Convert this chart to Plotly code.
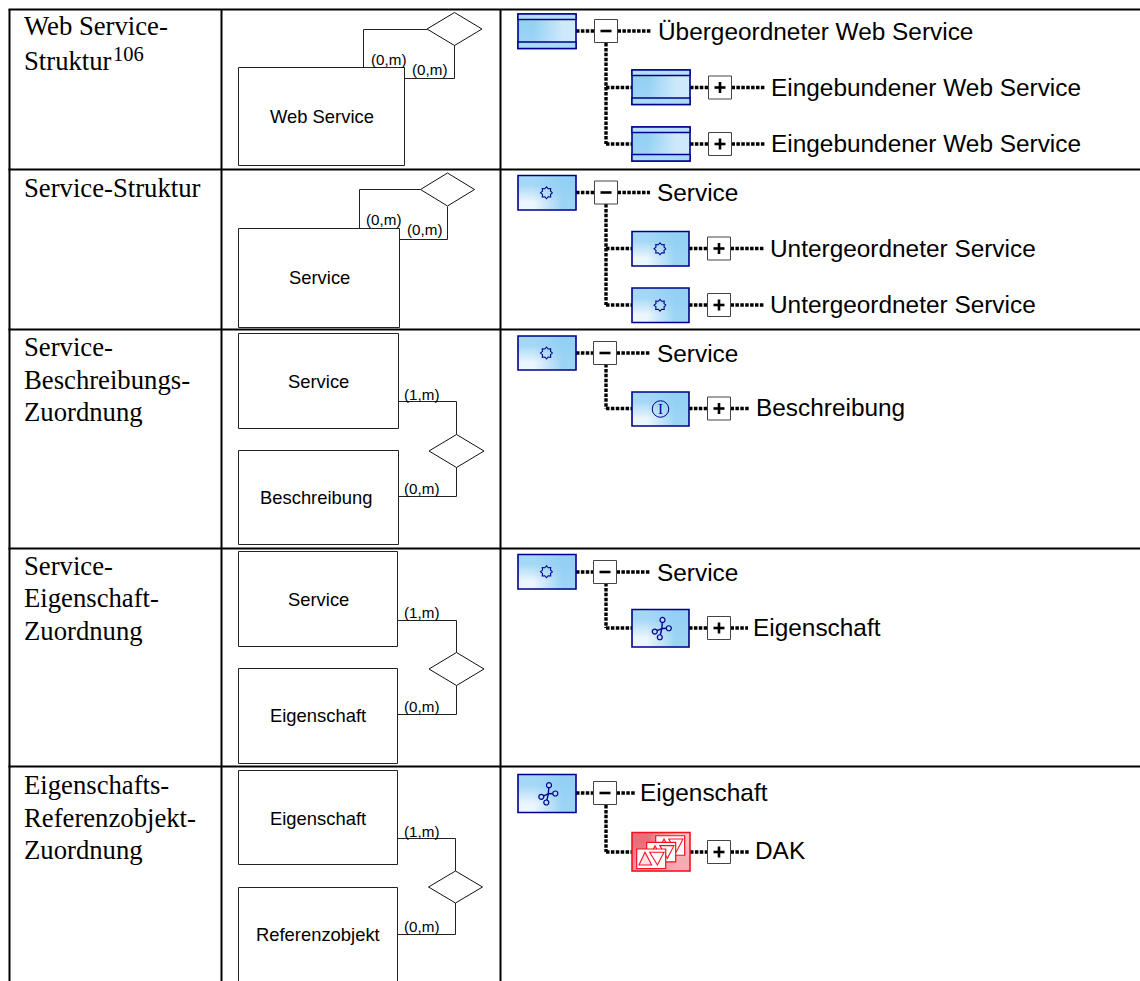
import math
import plotly.graph_objects as go

W, H = 1140, 981
# ---------------- table ----------------
table_h = [9.5, 169.5, 329.5, 548.5, 766.5]
table_v = [9.5, 221.5, 500.5]
row_line_text = ["Web Service-", "Struktur", "Service-Struktur",
                 "Service-", "Beschreibungs-", "Zuordnung",
                 "Service-", "Eigenschaft-", "Zuordnung",
                 "Eigenschafts-", "Referenzobjekt-", "Zuordnung"]
row_line_y = [25.5, 60.5, 187.5, 346.5, 379.5, 411.5, 565.5, 597.5, 630.5, 784.5, 817.5, 849.5]
row_text_x = 24
footnote_mark = "106"
footnote_x, footnote_y = 113, 54
# ---------------- ER diagrams ----------------
ent_names = ["Web Service", "Service", "Service", "Beschreibung", "Service", "Eigenschaft", "Eigenschaft", "Referenzobjekt"]
ent_x0 = [238.5, 238.5, 238.5, 238.5, 238.5, 238.5, 238.5, 238.5]
ent_x1 = [404.5, 399.5, 398.5, 398.5, 397.5, 397.5, 397.5, 397.5]
ent_y0 = [67.5, 228.5, 333.5, 450.5, 551.5, 668.5, 770.5, 887.5]
ent_y1 = [165.5, 327.5, 428.5, 544.5, 646.5, 763.5, 864.5, 990]
ent_tx = [321.5, 319, 318, 316, 318, 318, 318, 318]
ent_ty = [116.5, 277.5, 381, 497, 599, 715, 818, 934]
dia_cx = [454.5, 447.5, 456.5, 456.5, 455.5]
dia_cy = [29, 189.5, 451, 669, 887]
dia_rx = [27.5, 27, 27.5, 27.5, 27]
dia_ry = [16.5, 16.5, 16.5, 16.5, 16]
conn_x = [[363.5, 363.5, 427], [454.5, 454.5, 404.5],
          [359.5, 359.5, 420.5], [447.5, 447.5, 399.5],
          [398.5, 456.5, 456.5], [398.5, 456.5, 456.5],
          [397.5, 456.5, 456.5], [397.5, 456.5, 456.5],
          [397.5, 455.5, 455.5], [397.5, 455.5, 455.5]]
conn_y = [[67.5, 29.5, 29.5], [45.5, 78.5, 78.5],
          [228.5, 189.5, 189.5], [206.5, 239.5, 239.5],
          [401.5, 401.5, 434.5], [496.5, 496.5, 467.5],
          [620.5, 620.5, 652.5], [714.5, 714.5, 685.5],
          [838.5, 838.5, 871], [934.5, 934.5, 903]]
card_text = ["(0,m)", "(0,m)", "(0,m)", "(0,m)", "(1,m)", "(0,m)", "(1,m)", "(0,m)", "(1,m)", "(0,m)"]
card_x = [388, 429, 383, 424, 421, 421, 421, 421, 421, 421]
card_y = [59, 69.5, 219, 229, 394, 488, 612, 706, 831, 926.5]
# ---------------- tree diagrams ----------------
node_label = ["Übergeordneter Web Service", "Eingebundener Web Service", "Eingebundener Web Service",
              "Service", "Untergeordneter Service", "Untergeordneter Service",
              "Service", "Beschreibung", "Service", "Eigenschaft", "Eigenschaft", "DAK"]
node_icon = ["band", "band", "band", "gear", "gear", "gear", "gear", "info", "gear", "net", "net", "cards"]
node_x0 = [518, 632, 632, 518, 632, 632, 518, 632, 518, 632, 518, 632]
node_x1 = [576, 690, 690, 576, 689, 689, 576, 689, 576, 689, 576, 690]
node_y0 = [14, 70, 127, 175.5, 231.5, 288, 336, 392, 554.5, 609.5, 774.5, 832.5]
node_y1 = [48.5, 104.5, 161, 210, 266, 322.5, 370, 426, 589, 647, 812.5, 871]
node_cy = [31, 87.5, 144, 192.5, 248.5, 305, 353, 408.5, 572, 628, 793, 852]
label_y = [31, 87, 143.5, 192.5, 248, 304.5, 353, 407.5, 572, 627, 792, 850]
node_sign = ["-", "+", "+", "-", "+", "+", "-", "+", "-", "+", "-", "+"]
toggle_x0 = [594.5, 708.5, 708.5, 594.5, 707.5, 707.5, 593.5, 707.5, 593.5, 707.5, 593.5, 707.5]
line_end = [651, 765, 765, 650, 764, 764, 650, 750, 650, 748, 636, 750]
label_x = [658, 771, 771, 657, 770, 770, 657, 756, 657, 753, 640, 755]
stem_x = [606, 606, 606, 606, 606]
stem_y0 = [43, 204, 364, 583, 805]
stem_y1 = [144, 305, 408.5, 628, 852]
stem_branch = [[87.5, 144], [248.5, 305], [408.5], [628], [852]]
TOGGLE_W, TOGGLE_H = 23, 23
# icon glyph offsets
net_dx = [-5.7, 2, 8.3, -0.7]
net_dy = [3.3, -8.3, 0, 9]
net_hub = (1.3, 0.3)
card_dx = [9.2, 0.2, -9.8]
card_dy = [-6, 0.6, 7.25]
FONT_SANS = "Liberation Sans"
FONT_SERIF = "Liberation Serif"
NAVY = "#00008c"

fig = go.Figure()
shapes, annos = [], []

def text(x, y, s, size, family, anchor="left", color="#000"):
    annos.append(dict(x=x, y=y, text=s, showarrow=False, xanchor=anchor, yanchor="middle",
                      xref="x", yref="y", align="left",
                      font=dict(size=size, family=family, color=color),
                      borderpad=0, borderwidth=0))

def gradient(x0, x1, y0, y1, corners, scale):
    # corners: bottom-left, bottom-right, top-left, top-right strengths in 0..1
    w, h = (x1 - x0) / 2, (y1 - y0) / 2
    fig.add_trace(go.Heatmap(x=[x0 + w / 2, x1 - w / 2], y=[y0 + h / 2, y1 - h / 2],
                             z=[[corners[2], corners[3]], [corners[0], corners[1]]],
                             zmin=0, zmax=1, zsmooth="best", showscale=False, hoverinfo="skip",
                             colorscale=scale))

def rect(x0, y0, x1, y1, line, width=1, fill="rgba(0,0,0,0)"):
    shapes.append(dict(type="rect", x0=x0, y0=y0, x1=x1, y1=y1, xref="x", yref="y",
                       line=dict(color=line, width=width), fillcolor=fill))

BLUE = [[0, "#93d0f4"], [1, "#ecf6fd"]]
RED = [[0, "#e9707a"], [1, "#fbd3d6"]]

# gradients for tree boxes
for i, icon in enumerate(node_icon):
    if icon == "band":
        gradient(node_x0[i], node_x1[i], node_y0[i], node_y1[i], (0.1, 0.65, 0.0, 0.65), BLUE)
    elif icon == "cards":
        gradient(node_x0[i], node_x1[i], node_y0[i], node_y1[i], (0.3, 0.6, 0.0, 0.8), RED)
    else:
        gradient(node_x0[i], node_x1[i], node_y0[i], node_y1[i], (1.0, 0.1, 0.2, 0.0), BLUE)

# dotted connectors
dx, dy = [], []
for i in range(len(node_label)):
    tg0 = toggle_x0[i]
    dx += [node_x1[i], tg0, None, tg0 + TOGGLE_W, line_end[i], None]
    dy += [node_cy[i], node_cy[i], None, node_cy[i], node_cy[i], None]
for sx, y0, y1, branches in zip(stem_x, stem_y0, stem_y1, stem_branch):
    dx += [sx, sx, None]
    dy += [y0, y1, None]
    for b in branches:
        dx += [sx, 632, None]
        dy += [b, b, None]
fig.add_trace(go.Scatter(x=dx, y=dy, mode="lines", hoverinfo="skip", showlegend=False,
                         line=dict(color="#000", width=3.4, dash="3.5px,1.4px")))

# ER connectors
cx, cy = [], []
for a, b in zip(conn_x, conn_y):
    cx += a + [None]
    cy += b + [None]
fig.add_trace(go.Scatter(x=cx, y=cy, mode="lines", hoverinfo="skip", showlegend=False,
                         line=dict(color="#222", width=1)))
# diamonds
mx, my = [], []
for x, y, rx, ry in zip(dia_cx, dia_cy, dia_rx, dia_ry):
    mx += [x - rx, x, x + rx, x, x - rx, None]
    my += [y, y - ry, y, y + ry, y, None]
fig.add_trace(go.Scatter(x=mx, y=my, mode="lines", hoverinfo="skip", showlegend=False,
                         line=dict(color="#111", width=1)))

# tree boxes, toggles, icons
gear_lx, gear_ly, info_x, info_y = [], [], [], []
net_lx, net_ly, net_px, net_py = [], [], [], []
for i, icon in enumerate(node_icon):
    x0, x1, y0, y1 = node_x0[i], node_x1[i], node_y0[i], node_y1[i]
    mid = (x0 + x1) / 2
    cyv = (y0 + y1) / 2
    if icon == "cards":
        rect(x0, y0, x1, y1, "#fb0f1e", 1.6)
    else:
        rect(x0, y0, x1, y1, NAVY, 1.6)
    if icon == "band":
        rect(x0, y0, x1, y0 + 5.5, NAVY, 1.4, "#b6e0f8")
        rect(x0, y1 - 6.5, x1, y1, NAVY, 1.4, "#a9dbf7")
    elif icon == "gear":
        for k in range(17):
            r = 6 if k % 2 == 0 else 4.3
            ang = math.pi * k / 8
            gear_lx.append(mid - 0.5 + r * math.cos(ang))
            gear_ly.append(cyv + r * math.sin(ang))
        gear_lx.append(None); gear_ly.append(None)
    elif icon == "info":
        info_x.append(mid); info_y.append(cyv)
        text(mid, cyv, "I", 15, FONT_SERIF, "center", NAVY)
    elif icon == "net":
        hx, hy = mid + net_hub[0], cyv + net_hub[1]
        for a, b in zip(net_dx, net_dy):
            net_lx += [hx, mid + a, None]
            net_ly += [hy, cyv + b, None]
            net_px.append(mid + a); net_py.append(cyv + b)
    elif icon == "cards":
        for a, b in zip(card_dx, card_dy):
            left, top = mid + a - 14.5, cyv + b - 10
            right, bot = left + 29, top + 19.5
            rect(left, top, right, bot, "#fb0f1e", 1.2, "#ffffff")
            shapes.append(dict(type="path", xref="x", yref="y", fillcolor="#fde3e5",
                               line=dict(color="#fb0f1e", width=1.1),
                               path=f"M {left+2.3} {top+16} L {left+8.3} {top+3.3} L {left+15} {top+16} Z"))
            shapes.append(dict(type="path", xref="x", yref="y", fillcolor="#ffffff",
                               line=dict(color="#fb0f1e", width=1.1),
                               path=f"M {left+13} {top+3.3} L {left+27.3} {top+3.3} L {left+20.7} {top+16} Z"))
    # toggle
    tx0 = toggle_x0[i]
    ty0 = node_cy[i] - TOGGLE_H / 2
    rect(tx0, ty0, tx0 + TOGGLE_W, ty0 + TOGGLE_H, "#444444", 1, "#ffffff")
    tcx, tcy = tx0 + TOGGLE_W / 2, node_cy[i]
    shapes.append(dict(type="line", x0=tcx - 5.5, x1=tcx + 5.5, y0=tcy, y1=tcy, xref="x", yref="y",
                       line=dict(color="#000", width=2.6)))
    if node_sign[i] == "+":
        shapes.append(dict(type="line", x0=tcx, x1=tcx, y0=tcy - 5.5, y1=tcy + 5.5, xref="x", yref="y",
                           line=dict(color="#000", width=2.6)))
    text(label_x[i], label_y[i], node_label[i], 24.4, FONT_SANS)

fig.add_trace(go.Scatter(x=gear_lx, y=gear_ly, mode="lines", hoverinfo="skip", showlegend=False,
                         line=dict(width=1.1, color=NAVY)))
fig.add_trace(go.Scatter(x=info_x, y=info_y, mode="markers", hoverinfo="skip", showlegend=False,
                         marker=dict(symbol="circle-open", size=16.5, color=NAVY, line=dict(width=1, color=NAVY))))
fig.add_trace(go.Scatter(x=net_lx, y=net_ly, mode="lines", hoverinfo="skip", showlegend=False,
                         line=dict(color=NAVY, width=1.4)))
fig.add_trace(go.Scatter(x=net_px, y=net_py, mode="markers", hoverinfo="skip", showlegend=False,
                         marker=dict(symbol="circle", size=5, color="#b5def7", line=dict(width=1.2, color=NAVY))))

# ER entities
for i, name in enumerate(ent_names):
    rect(ent_x0[i], ent_y0[i], ent_x1[i], ent_y1[i], "#222222", 1)
    text(ent_tx[i], ent_ty[i], name, 18.4, FONT_SANS, "center")
for s, x, y in zip(card_text, card_x, card_y):
    text(x, y, s, 15.2, FONT_SANS, "center")

# table grid
for y in table_h:
    shapes.append(dict(type="line", x0=table_v[0] - 1, x1=W, y0=y, y1=y, xref="x", yref="y",
                       line=dict(color="#000", width=2)))
for x in table_v:
    shapes.append(dict(type="line", x0=x, x1=x, y0=table_h[0], y1=H, xref="x", yref="y",
                       line=dict(color="#000", width=2)))
for s, y in zip(row_line_text, row_line_y):
    text(row_text_x, y, s, 26.7, FONT_SERIF)
text(footnote_x, footnote_y, footnote_mark, 20.5, FONT_SERIF)

fig.update_layout(width=W, height=H, margin=dict(l=0, r=0, t=0, b=0), autosize=False,
                  paper_bgcolor="#fff", plot_bgcolor="#fff", showlegend=False,
                  xaxis=dict(range=[0, W], visible=False, fixedrange=True),
                  yaxis=dict(range=[H, 0], visible=False, fixedrange=True),
                  shapes=shapes, annotations=annos)
fig.write_html("out.html", config=dict(displayModeBar=False, responsive=False),
               post_script="document.body.style.margin='0';document.body.style.overflow='hidden';")
